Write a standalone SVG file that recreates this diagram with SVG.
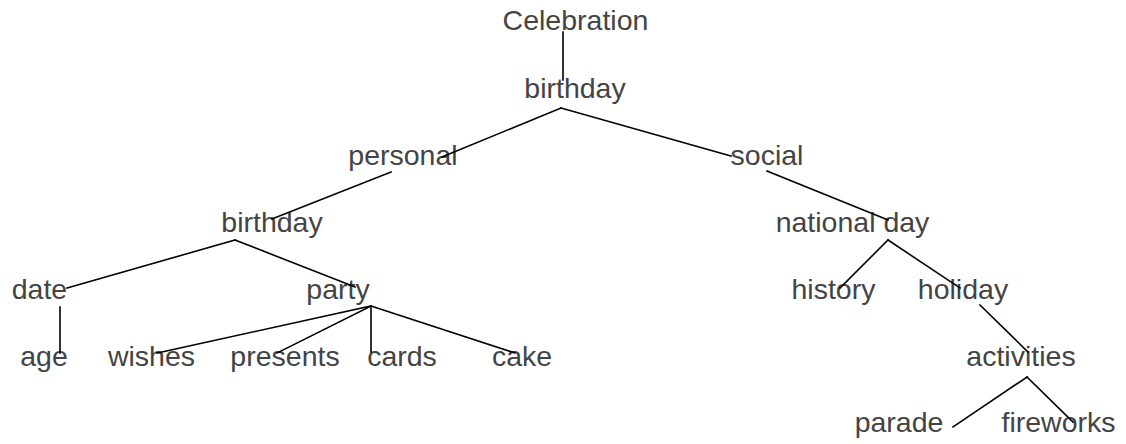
<svg xmlns="http://www.w3.org/2000/svg" width="1126" height="444" viewBox="0 0 1126 444">
<style>
text{font-family:"Liberation Sans",Arial,sans-serif;font-size:28.5px;fill:#444;text-anchor:middle}
.c line{stroke:#000;stroke-width:1.6;stroke-linecap:square}
</style>
<rect width="1126" height="444" fill="#fff"/>
<g id="n-celebration"><text x="575.5" y="30">Celebration</text></g>
<g id="n-birthday"><text x="575" y="98">birthday</text></g>
<g id="n-personal"><text x="403" y="165">personal</text></g>
<g id="n-social"><text x="767" y="165">social</text></g>
<g id="n-birthday2"><text x="272" y="232">birthday</text></g>
<g id="n-national-day"><text x="852.5" y="232">national day</text></g>
<g id="n-date"><text x="39.5" y="299">date</text></g>
<g id="n-party"><text x="338" y="299">party</text></g>
<g id="n-history"><text x="833.5" y="299">history</text></g>
<g id="n-holiday"><text x="963" y="299">holiday</text></g>
<g id="n-age"><text x="44" y="366">age</text></g>
<g id="n-wishes"><text x="151.5" y="366">wishes</text></g>
<g id="n-presents"><text x="285" y="366">presents</text></g>
<g id="n-cards"><text x="402" y="366">cards</text></g>
<g id="n-cake"><text x="522" y="366">cake</text></g>
<g id="n-activities"><text x="1021" y="366">activities</text></g>
<g id="n-parade"><text x="899" y="432">parade</text></g>
<g id="n-fireworks"><text x="1058.5" y="432">fireworks</text></g>
<g id="connectors" class="c">
<line x1="563" y1="32" x2="563" y2="80"/>
<line x1="561" y1="108" x2="442" y2="157"/>
<line x1="561" y1="108" x2="731" y2="156"/>
<line x1="391" y1="172" x2="272" y2="219"/>
<line x1="767" y1="171" x2="888" y2="220"/>
<line x1="235" y1="240" x2="67" y2="288"/>
<line x1="235" y1="240" x2="355" y2="287"/>
<line x1="888" y1="240" x2="840" y2="288"/>
<line x1="888" y1="240" x2="960" y2="288"/>
<line x1="60" y1="307" x2="60" y2="353"/>
<line x1="371" y1="306" x2="157" y2="353"/>
<line x1="371" y1="306" x2="277" y2="353"/>
<line x1="371" y1="306" x2="371" y2="352"/>
<line x1="371" y1="306" x2="515" y2="353"/>
<line x1="980" y1="305" x2="1028" y2="352"/>
<line x1="1027" y1="377" x2="953" y2="427"/>
<line x1="1027" y1="377" x2="1073" y2="422"/>
</g>
</svg>
